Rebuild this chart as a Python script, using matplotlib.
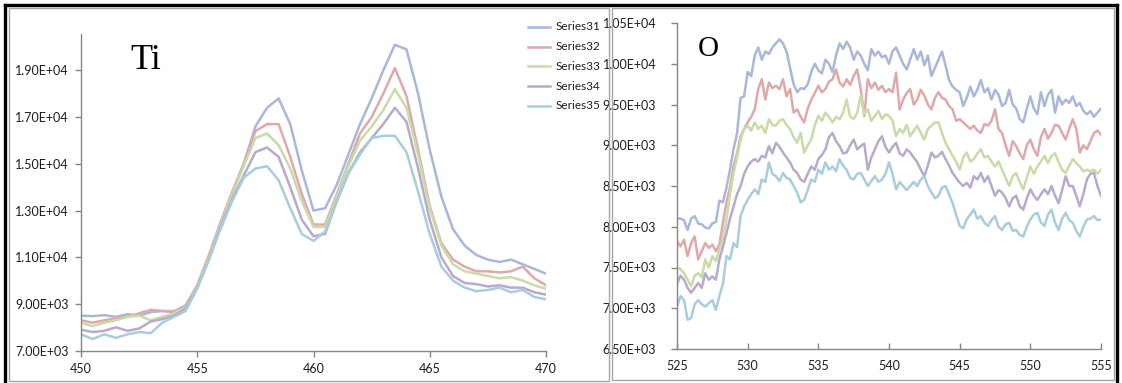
import numpy as np
import matplotlib
matplotlib.use("Agg")
import matplotlib.pyplot as plt
from matplotlib.lines import Line2D
from matplotlib.patches import Rectangle
from matplotlib.ticker import FuncFormatter

# ---- Ti 2p region (0.5 eV steps, 450 -> 470) ----
ti_s31 = [8500, 8480, 8520, 8450, 8560, 8500, 8650, 8700, 8650, 8950,
          9800, 11000, 12300, 13700, 15000, 16600, 17400, 17800, 16700, 14700,
          13000, 13100, 14100, 15400, 16700, 17800, 19000, 20100, 19900, 18000,
          15600, 13600, 12200, 11500, 11100, 10900, 10800, 10900, 10700, 10500,
          10300]
ti_s32 = [8300, 8200, 8300, 8400, 8450, 8600, 8750, 8700, 8700, 8900,
          9800, 11100, 12500, 13800, 15000, 16400, 16700, 16700, 15300, 13700,
          12400, 12400, 13700, 15000, 16300, 17000, 18000, 19100, 17900, 15600,
          13200, 11600, 10900, 10600, 10400, 10400, 10350, 10400, 10600, 10100,
          9800]
ti_s33 = [8200, 8050, 8200, 8300, 8450, 8500, 8300, 8450, 8600, 8850,
          9750, 11000, 12400, 13700, 14900, 16100, 16300, 15800, 14800, 13400,
          12300, 12300, 13600, 14900, 16000, 16600, 17300, 18200, 17400, 15400,
          13100, 11500, 10700, 10400, 10300, 10200, 10100, 10150, 10000, 9800,
          9650]
ti_s34 = [7900, 7800, 7850, 8000, 7850, 7950, 8250, 8350, 8500, 8800,
          9700, 10900, 12300, 13500, 14500, 15500, 15700, 15300, 14000, 12600,
          11900, 12000, 13400, 14600, 15500, 16100, 16700, 17400, 16800, 14800,
          12600, 11000, 10200, 9900, 9850, 9750, 9800, 9700, 9700, 9500,
          9400]
ti_s35 = [7700, 7500, 7700, 7550, 7700, 7800, 7750, 8200, 8450, 8700,
          9650, 10900, 12200, 13400, 14400, 14800, 14900, 14300, 13100, 12000,
          11700, 12100, 13400, 14600, 15400, 16100, 16200, 16200, 15500, 13800,
          12000, 10600, 10000, 9700, 9550, 9600, 9700, 9500, 9600, 9300,
          9200]

# ---- O 1s region (0.25 eV steps, 525 -> 555) ----
o_s31 = [8100, 8100, 8080, 7960, 8100, 8130, 8040, 8030, 7990, 7980,
         8040, 8060, 8320, 8300, 8480, 8700, 8950, 9150, 9580, 9600,
         9900, 9850, 10100, 10200, 10050, 10150, 10120, 10200, 10250, 10300,
         10250, 10150, 9950, 9750, 9650, 9700, 9690, 9750, 9900, 10000,
         9920, 9880, 10050, 10000, 9900, 10100, 10250, 10180, 10270, 10200,
         10050, 10150, 10100, 10000, 9920, 10180, 10100, 10150, 10080, 10100,
         10000, 10150, 10200, 10100, 10000, 9930, 10050, 10180, 10050, 10150,
         9980, 10100, 9850, 9950, 10050, 10150, 9980, 9800, 9720, 9680,
         9650, 9480, 9580, 9720, 9600, 9680, 9800, 9650, 9700, 9560,
         9680, 9620, 9480, 9520, 9680, 9500, 9450, 9320, 9280, 9450,
         9600, 9450, 9380, 9650, 9480, 9620, 9680, 9400, 9600, 9500,
         9560, 9520, 9600, 9480, 9520, 9420, 9380, 9420, 9350, 9400,
         9450]
o_s32 = [7820, 7760, 7840, 7640, 7800, 7880, 7600, 7700, 7800, 7740,
         7780, 7700, 7780, 8050, 8300, 8480, 8740, 8900, 9110, 9200,
         9280, 9350, 9440, 9690, 9810, 9560, 9770, 9700, 9730, 9690,
         9810, 9600, 9690, 9400, 9440, 9350, 9280, 9450, 9560, 9640,
         9730, 9650, 9690, 9780, 9810, 9930, 9770, 9720, 9810, 9740,
         9850, 9930, 9690, 9360, 9810, 9700, 9770, 9680, 9730, 9650,
         9690, 9650, 9890, 9440, 9560, 9640, 9690, 9500, 9560, 9680,
         9610, 9500, 9440, 9580, 9650, 9580, 9560, 9480, 9440, 9300,
         9320, 9280, 9240, 9200, 9240, 9180, 9150, 9260, 9240, 9300,
         9440, 9200, 9150, 9000, 8870, 9050, 8990, 8900, 8830, 9000,
         9070, 8950, 8870, 9100, 9200, 9080, 9150, 9250, 9240, 9150,
         9070, 9200, 9320, 9200, 8910, 9000, 8950, 9050, 9150, 9180,
         9130]
o_s33 = [7510, 7480, 7430, 7350, 7270, 7400, 7430, 7380, 7600, 7500,
         7640, 7580, 7720, 7850, 8090, 8400, 8660, 8850, 9070, 9200,
         9240, 9180, 9280, 9200, 9240, 9150, 9320, 9250, 9240, 9300,
         9320, 9250, 9200, 9100, 9030, 9150, 8910, 9000, 9070, 9250,
         9360, 9300, 9400, 9350, 9280, 9350, 9320, 9400, 9560, 9350,
         9320, 9400, 9610, 9380, 9440, 9300, 9360, 9420, 9320, 9380,
         9360, 9300, 9110, 9200, 9150, 9250, 9110, 9180, 9240, 9150,
         9070, 9200, 9240, 9280, 9280, 9150, 9030, 8950, 8870, 8800,
         8700, 8850, 8910, 8800, 8830, 8900, 8950, 8850, 8870, 8800,
         8740, 8800, 8700, 8600, 8500, 8620, 8660, 8550, 8460, 8600,
         8740, 8650, 8740, 8800, 8870, 8780, 8870, 8900, 8790, 8700,
         8660, 8750, 8830, 8780, 8740, 8680, 8700, 8680, 8700, 8650,
         8700]
o_s34 = [7300, 7400, 7350, 7250, 7190, 7250, 7310, 7250, 7430, 7350,
         7390, 7350, 7600, 7750, 7920, 8100, 8250, 8400, 8500, 8650,
         8740, 8800, 8830, 8800, 8870, 8850, 8990, 8900, 9030, 8980,
         8910, 8850, 8790, 8700, 8660, 8580, 8550, 8650, 8740, 8700,
         8830, 8880, 8950, 9100, 9150, 9050, 8990, 8900, 8910, 9000,
         9070, 8950, 8990, 9020, 8700, 8850, 8950, 9050, 9110, 8980,
         8910, 8980, 9030, 8900, 8870, 8950, 8910, 8850, 8790, 8700,
         8620, 8750, 8910, 8850, 8870, 8920, 8830, 8750, 8660, 8600,
         8540, 8500, 8540, 8480, 8620, 8580, 8660, 8550, 8620, 8500,
         8380, 8450, 8420, 8350, 8250, 8350, 8380, 8250, 8210, 8350,
         8460, 8380, 8330, 8400, 8460, 8400, 8500, 8380, 8290, 8450,
         8620, 8500, 8500, 8380, 8250, 8400, 8580, 8650, 8660, 8500,
         8380]
o_s35 = [7020, 7150, 7100, 6860, 6880, 7050, 7100, 7050, 7020, 7060,
         7100, 6980, 7150, 7300, 7640, 7600, 7800, 7750, 8130, 8250,
         8330, 8400, 8460, 8400, 8580, 8550, 8790, 8650, 8620, 8560,
         8660, 8600, 8580, 8500, 8420, 8300, 8330, 8450, 8580, 8550,
         8700, 8650, 8790, 8700, 8740, 8680, 8830, 8750, 8700, 8600,
         8580, 8650, 8660, 8580, 8500, 8560, 8620, 8550, 8580, 8650,
         8790, 8650, 8460, 8550, 8500, 8450, 8500, 8550, 8500, 8580,
         8620, 8500, 8420, 8350, 8380, 8480, 8500, 8400, 8290, 8150,
         8010, 7980, 8090, 8150, 8210, 8100, 8130, 8050, 8010, 8080,
         8130, 8000, 7960, 8030, 8050, 7950, 7960, 7900, 7880, 8000,
         8090, 8150, 8170, 8050, 8010, 8150, 8210, 8050, 7960, 8100,
         8170, 8080, 8050, 7950, 7880, 8000, 8090, 8100, 8130, 8080,
         8090]

series_names = ["Series31", "Series32", "Series33", "Series34", "Series35"]
series_colors = ["#a9b7da", "#dfa9a9", "#c8dba8", "#b8aacd", "#a8cddb"]

ti_energy = np.linspace(450, 470, len(ti_s31))
o_energy = np.linspace(525, 555, len(o_s31))

W, H = 1122, 383
fig = plt.figure(figsize=(W / 100, H / 100), dpi=100)

def fx(px):
    return px / W

def fy(py):
    return 1 - py / H

# panel frames and the outer border
fig.patches.append(Rectangle((fx(9), fy(381)), fx(609) - fx(9), fy(8) - fy(381),
                             transform=fig.transFigure, fill=False, ec="#a6a6a6", lw=1))
fig.patches.append(Rectangle((fx(612), fy(380)), fx(1114) - fx(612), fy(8) - fy(380),
                             transform=fig.transFigure, fill=False, ec="#a6a6a6", lw=1))
for xs, ys in [((fx(5), fx(1117)), (fy(5), fy(5))),
               ((fx(5), fx(5)), (fy(5), fy(383))),
               ((fx(1117), fx(1117)), (fy(5), fy(383)))]:
    fig.add_artist(Line2D(xs, ys, transform=fig.transFigure, color="black", lw=2.4))

sci = FuncFormatter(lambda v, p: f"{v:.2E}")
tick_font = dict(family="Lato", size=9)
axis_grey = "#868686"

def style_axes(ax, xdir, ypad, xpad):
    for side in ["top", "right"]:
        ax.spines[side].set_visible(False)
    for side in ["left", "bottom"]:
        ax.spines[side].set_color(axis_grey)
        ax.spines[side].set_linewidth(1)
    ax.tick_params(axis="y", direction="out", length=4, width=1, color=axis_grey,
                   pad=ypad, labelcolor="#1e1e1e")
    ax.tick_params(axis="x", direction=xdir, length=4, width=1, color=axis_grey,
                   pad=xpad, labelcolor="#1e1e1e")
    ax.yaxis.set_major_formatter(sci)
    for lab in ax.get_xticklabels() + ax.get_yticklabels():
        lab.set_fontfamily(tick_font["family"])
        lab.set_fontsize(tick_font["size"])

# Ti panel
ax_ti = fig.add_axes([fx(81), fy(350.7), fx(546) - fx(81), fy(34) - fy(350.7)])
for vals, c in zip([ti_s31, ti_s32, ti_s33, ti_s34, ti_s35], series_colors):
    ax_ti.plot(ti_energy, vals, color=c, lw=1.8)
ax_ti.set_xlim(450, 470)
ax_ti.set_ylim(7000, 20560)
ax_ti.set_xticks(np.arange(450, 471, 5))
ax_ti.set_yticks(np.arange(7000, 19001, 2000))
style_axes(ax_ti, "out", 5, 5)

# O panel
ax_o = fig.add_axes([fx(677), fy(349), fx(1101) - fx(677), fy(23) - fy(349)])
for vals, c in zip([o_s31, o_s32, o_s33, o_s34, o_s35], series_colors):
    ax_o.plot(o_energy, vals, color=c, lw=1.8)
ax_o.set_xlim(525, 555)
ax_o.set_ylim(6500, 10500)
ax_o.set_xticks(np.arange(525, 556, 5))
ax_o.set_yticks(np.arange(6500, 10501, 500))
style_axes(ax_o, "in", 11, 8)

# element labels
fig.text(fx(130), fy(69), "Ti", family="Liberation Serif", fontsize=26, va="baseline")
fig.text(fx(698), fy(56.5), "O", family="Liberation Serif", fontsize=21, va="baseline")

# legend for the Ti panel
for i, (name, c) in enumerate(zip(series_names, series_colors)):
    yy = fy(27 + i * 19.7)
    fig.add_artist(Line2D([fx(528), fx(550)], [yy, yy], transform=fig.transFigure,
                          color=c, lw=1.8))
    fig.text(fx(556), yy, name, family="Lato", fontsize=8.5, va="center",
             color="#1e1e1e")

fig.savefig("out.png", dpi=100)
